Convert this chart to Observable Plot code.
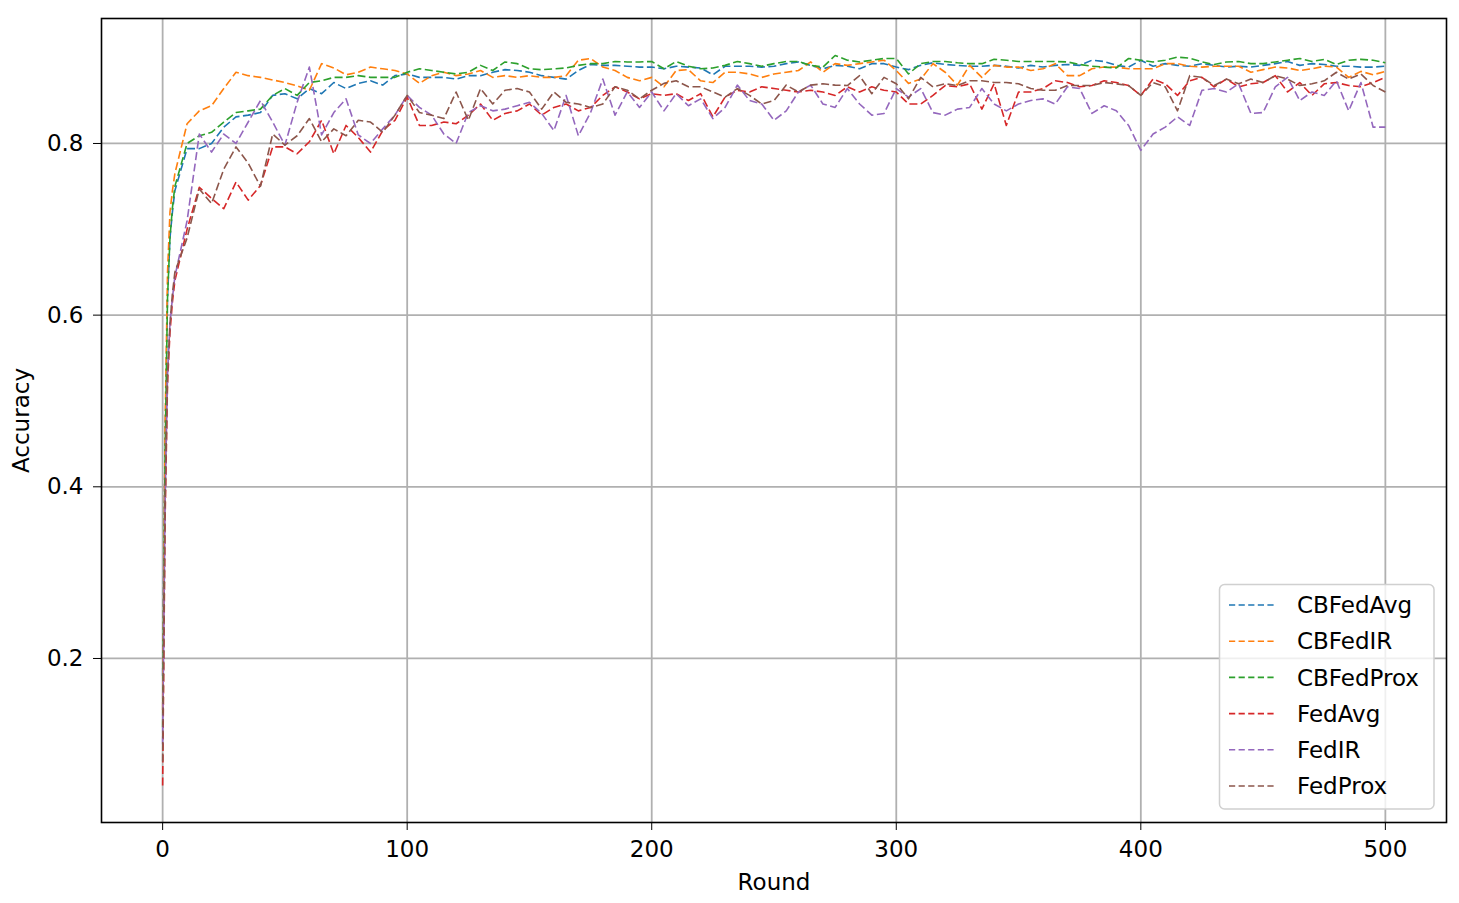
<!DOCTYPE html>
<html><head><meta charset="utf-8">
<script src="https://cdn.jsdelivr.net/npm/d3@7"></script>
<script src="https://cdn.jsdelivr.net/npm/@observablehq/plot@0.6"></script>
<style>body{margin:0;background:#fff;} #chart svg{display:block;}</style>
</head><body><div id="chart"></div>
<script>
const seriesNames = ["CBFedAvg", "CBFedIR", "CBFedProx", "FedAvg", "FedIR", "FedProx"];
const seriesColors = ["#1f77b4", "#ff7f0e", "#2ca02c", "#d62728", "#9467bd", "#8c564b"];
const xTicks = [0, 100, 200, 300, 400, 500];
const yTicks = [0.2, 0.4, 0.6, 0.8];

const rounds = [0,1,2,3,4,5,10,15,20,25,30,35,40,45,50,55,60,65,70,75,80,85,90,95,100,
105,110,115,120,125,130,135,140,145,150,155,160,165,170,175,180,185,190,195,200,
205,210,215,220,225,230,235,240,245,250,255,260,265,270,275,280,285,290,295,300,
305,310,315,320,325,330,335,340,345,350,355,360,365,370,375,380,385,390,395,400,
405,410,415,420,425,430,435,440,445,450,455,460,465,470,475,480,485,490,495,500];

const cbFedAvg = [0.18,0.45,0.62,0.69,0.72,0.745,
0.794,0.794,0.800,0.819,0.831,0.833,0.836,0.856,0.858,0.852,0.864,0.858,0.871,0.864,0.870,0.873,0.868,0.879,0.881,0.877,0.877,0.877,0.875,0.879,0.879,
0.883,0.886,0.885,0.883,0.879,0.877,0.875,0.885,0.892,0.891,0.891,0.890,0.889,0.889,0.887,0.890,0.889,0.888,0.880,0.890,0.890,0.890,0.889,0.890,0.893,0.895,0.891,
0.887,0.891,0.890,0.887,0.893,0.893,0.889,0.886,0.891,0.894,0.892,0.891,0.890,0.890,0.891,0.890,0.888,0.891,0.889,0.891,0.892,0.891,0.897,0.8955,0.891,0.889,0.897,
0.890,0.893,0.891,0.890,0.893,0.891,0.889,0.890,0.889,0.891,0.893,0.8955,0.891,0.893,0.892,0.890,0.890,0.889,0.889,0.890];

const cbFedIR = [0.14,0.47,0.65,0.72,0.745,0.765,
0.823,0.838,0.844,0.864,0.883,0.879,0.877,0.874,0.871,0.867,0.862,0.893,0.888,0.880,0.883,0.889,0.887,0.885,0.881,0.870,0.879,0.883,0.879,0.881,0.885,
0.877,0.879,0.877,0.879,0.877,0.877,0.879,0.897,0.899,0.889,0.885,0.877,0.873,0.877,0.866,0.885,0.886,0.873,0.871,0.883,0.883,0.881,0.877,0.881,0.883,0.885,0.895,
0.883,0.893,0.891,0.893,0.895,0.897,0.885,0.870,0.875,0.893,0.883,0.868,0.891,0.877,0.891,0.889,0.889,0.885,0.887,0.893,0.879,0.879,0.887,0.889,0.889,0.887,0.887,
0.887,0.893,0.893,0.890,0.889,0.890,0.890,0.890,0.883,0.886,0.889,0.888,0.885,0.887,0.890,0.889,0.877,0.884,0.880,0.884];

const cbFedProx = [0.12,0.44,0.62,0.69,0.725,0.75,
0.800,0.809,0.813,0.825,0.836,0.838,0.840,0.856,0.864,0.856,0.871,0.873,0.877,0.877,0.879,0.877,0.877,0.877,0.883,0.887,0.885,0.883,0.881,0.883,0.891,
0.885,0.895,0.893,0.887,0.886,0.887,0.888,0.891,0.893,0.893,0.8955,0.895,0.895,0.8955,0.887,0.8955,0.890,0.887,0.888,0.891,0.8955,0.893,0.890,0.893,0.8955,0.8955,0.891,
0.889,0.9025,0.897,0.895,0.897,0.899,0.899,0.881,0.893,0.8955,0.8955,0.894,0.893,0.893,0.898,0.897,0.8955,0.8955,0.8955,0.8955,0.895,0.892,0.890,0.889,0.888,0.899,0.897,
0.895,0.897,0.9006,0.8994,0.895,0.892,0.895,0.8955,0.893,0.893,0.895,0.897,0.899,0.8955,0.898,0.892,0.897,0.898,0.897,0.894];

const fedAvg = [0.052,0.36,0.52,0.58,0.615,0.64,
0.700,0.749,0.736,0.724,0.755,0.734,0.751,0.796,0.796,0.788,0.802,0.827,0.788,0.821,0.807,0.790,0.815,0.827,0.854,0.821,0.821,0.825,0.823,0.833,0.846,
0.827,0.835,0.838,0.846,0.833,0.842,0.846,0.838,0.842,0.856,0.866,0.860,0.852,0.858,0.856,0.858,0.850,0.858,0.831,0.854,0.862,0.860,0.866,0.864,0.862,0.860,0.862,
0.860,0.856,0.866,0.860,0.866,0.862,0.860,0.846,0.846,0.856,0.8675,0.866,0.8695,0.840,0.8695,0.821,0.860,0.860,0.864,0.873,0.871,0.866,0.8675,0.873,0.871,0.8675,0.856,
0.875,0.8695,0.856,0.873,0.877,0.866,0.875,0.866,0.8695,0.871,0.879,0.860,0.871,0.856,0.8695,0.871,0.8675,0.866,0.871,0.877];

const fedIR = [0.10,0.38,0.53,0.59,0.62,0.645,
0.710,0.811,0.790,0.811,0.800,0.825,0.850,0.825,0.798,0.848,0.889,0.810,0.836,0.852,0.810,0.800,0.817,0.833,0.856,0.842,0.833,0.811,0.800,0.836,0.844,
0.838,0.840,0.844,0.848,0.835,0.815,0.856,0.809,0.836,0.875,0.833,0.860,0.842,0.860,0.838,0.858,0.844,0.852,0.829,0.842,0.868,0.850,0.846,0.827,0.838,0.860,0.868,
0.846,0.842,0.864,0.846,0.833,0.835,0.864,0.854,0.864,0.836,0.833,0.840,0.842,0.864,0.846,0.838,0.846,0.850,0.852,0.846,0.866,0.864,0.835,0.844,0.838,0.821,0.792,
0.811,0.819,0.831,0.821,0.862,0.864,0.860,0.8695,0.835,0.836,0.866,0.877,0.850,0.860,0.856,0.873,0.838,0.871,0.819,0.819];

const fedProx = [0.08,0.38,0.53,0.59,0.625,0.65,
0.690,0.747,0.730,0.770,0.796,0.777,0.750,0.811,0.798,0.809,0.829,0.802,0.817,0.809,0.827,0.825,0.813,0.833,0.856,0.836,0.833,0.829,0.860,0.827,0.864,
0.846,0.862,0.864,0.860,0.840,0.860,0.848,0.846,0.842,0.846,0.866,0.862,0.852,0.862,0.870,0.873,0.866,0.866,0.860,0.854,0.864,0.856,0.846,0.850,0.868,0.860,0.868,
0.8695,0.868,0.8675,0.879,0.858,0.877,0.8695,0.852,0.877,0.866,0.8695,0.8675,0.873,0.873,0.871,0.871,0.8695,0.864,0.862,0.862,0.8675,0.8675,0.8675,0.871,0.8695,0.8675,0.856,
0.871,0.866,0.838,0.879,0.877,0.8675,0.875,0.8695,0.875,0.871,0.879,0.875,0.8675,0.8695,0.873,0.883,0.875,0.881,0.8675,0.860];

const seriesValues = [cbFedAvg, cbFedIR, cbFedProx, fedAvg, fedIR, fedProx];
const rows = seriesNames.flatMap((name, i) =>
  rounds.map((r, j) => ({series: name, round: r, acc: seriesValues[i][j]})));

const W = 1459, H = 903;
const chart = Plot.plot({
  width: W, height: H,
  marginLeft: 101, marginRight: 13, marginTop: 18, marginBottom: 81,
  style: {fontFamily: "'DejaVu Sans', sans-serif", fontSize: "23px", background: "#fff", color: "#000", overflow: "visible"},
  x: {domain: [-25, 525], ticks: xTicks, tickSize: 8, tickPadding: 10, label: "Round",
      labelAnchor: "center", labelOffset: 67, labelArrow: "none"},
  y: {domain: [0.0089, 0.9456], ticks: yTicks, tickFormat: d3.format(".1f"), tickSize: 8, tickPadding: 10,
      label: "Accuracy", labelAnchor: "center", labelOffset: 89, labelArrow: "none"},
  color: {domain: seriesNames, range: seriesColors},
  marks: [
    Plot.ruleX(xTicks, {stroke: "#b0b0b0", strokeWidth: 1.8}),
    Plot.ruleY(yTicks, {stroke: "#b0b0b0", strokeWidth: 1.8}),
    Plot.line(rows, {x: "round", y: "acc", z: "series", stroke: "series", strokeWidth: 1.6,
      strokeDasharray: "8,3.5", strokeLinecap: "butt", strokeLinejoin: "round"}),
    Plot.frame({stroke: "#000", strokeWidth: 1.6})
  ]
});
document.getElementById("chart").appendChild(chart);

// Legend (inside the plot, lower right, matplotlib style)
const svg = d3.select(chart);
const lg = svg.append("g").attr("font-family", "'DejaVu Sans', sans-serif").attr("font-size", 23)
  .attr("text-anchor", "start");
lg.append("rect").attr("x", 1219.5).attr("y", 584.5).attr("width", 214.5).attr("height", 224.5)
  .attr("rx", 5).attr("fill", "#fff").attr("fill-opacity", 0.8).attr("stroke", "#d0d0d0").attr("stroke-width", 1.5);
seriesNames.forEach((name, i) => {
  const y = 605 + i * 36.2;
  lg.append("line").attr("x1", 1229).attr("x2", 1277).attr("y1", y).attr("y2", y)
    .attr("stroke", seriesColors[i]).attr("stroke-width", 1.6).attr("stroke-dasharray", "6.2,3.4");
  lg.append("text").attr("x", 1297).attr("y", y).attr("dy", "0.36em")
    .attr("text-anchor", "start").attr("fill", "#000").text(name);
});
</script>
</body></html>
